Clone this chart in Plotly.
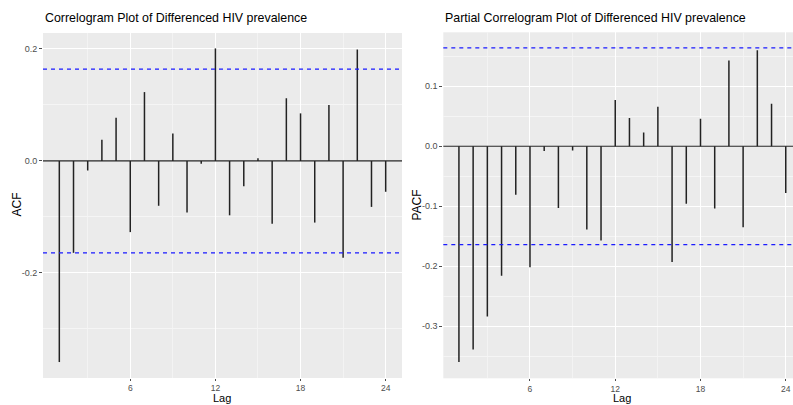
import plotly.graph_objects as go

lags = list(range(1, 25))
acf_vals = [-0.359, -0.164, -0.017, 0.038, 0.077, -0.127, 0.123, -0.080, 0.049, -0.092, -0.005, 0.201,
            -0.097, -0.045, 0.005, -0.112, 0.112, 0.085, -0.110, 0.100, -0.173, 0.199, -0.082, -0.055]
pacf_vals = [-0.360, -0.339, -0.284, -0.216, -0.081, -0.202, -0.008, -0.103, -0.007, -0.139, -0.157, 0.077,
             0.047, 0.023, 0.066, -0.193, -0.096, 0.046, -0.104, 0.143, -0.135, 0.160, 0.071, -0.078]
ci = 0.164

left_title = "Correlogram Plot of Differenced HIV prevalence"
right_title = "Partial Correlogram Plot of Differenced HIV prevalence"
x_ticks = [6, 12, 18, 24]
acf_ticks = [-0.2, 0.0, 0.2]
pacf_ticks = [-0.3, -0.2, -0.1, 0.0, 0.1]

W, H = 793, 405
FONT = "Liberation Sans, Arial, sans-serif"


def segs(xs, ys):
    sx, sy = [], []
    for a, b in zip(xs, ys):
        sx += [a, a, None]
        sy += [0, b, None]
    return sx, sy


fig = go.Figure()
for vals, xa, ya in [(acf_vals, "x", "y"), (pacf_vals, "x2", "y2")]:
    sx, sy = segs(lags, vals)
    fig.add_trace(go.Scatter(x=sx, y=sy, mode="lines", xaxis=xa, yaxis=ya,
                             line=dict(color="#222222", width=1.5), showlegend=False, hoverinfo="skip"))

shapes = []
for xr, yr in [("x domain", "y"), ("x2 domain", "y2")]:
    shapes.append(dict(type="line", xref=xr, yref=yr, x0=0, x1=1, y0=0, y1=0,
                       line=dict(color="#222222", width=1.2)))
    for v in (ci, -ci):
        shapes.append(dict(type="line", xref=xr, yref=yr, x0=0, x1=1, y0=v, y1=v,
                           line=dict(color="#1a1aff", width=1.2, dash="4px,4px")))

y_common = dict(showgrid=True, gridcolor="white", gridwidth=1.1, zeroline=False,
                ticks="outside", ticklen=3, tickcolor="#4d4d4d", tickwidth=1,
                tickfont=dict(family=FONT, size=9, color="#4d4d4d"), showline=False)
x_common = dict(showgrid=True, gridcolor="white", gridwidth=1.1, zeroline=False,
                ticks="outside", ticklen=2, tickcolor="#4d4d4d", tickwidth=1,
                tickfont=dict(family=FONT, size=8.5, color="#4d4d4d"), showline=False)

fig.update_layout(
    width=W, height=H, margin=dict(l=0, r=0, t=0, b=0),
    paper_bgcolor="white", plot_bgcolor="#EBEBEB",
    xaxis=dict(domain=[43 / W, 402 / W], range=[-0.15, 25.15], tickvals=x_ticks,
               minor=dict(tickvals=[3, 9, 15, 21], showgrid=True, gridcolor="#f3f3f3", gridwidth=0.5), anchor="y",
               **x_common),
    yaxis=dict(domain=[(H - 378) / H, (H - 33) / H], range=[-0.3875, 0.2285], tickvals=acf_ticks,
               ticktext=["-0.2", "0.0", "0.2"],
               minor=dict(tickvals=[-0.3, -0.1, 0.1], showgrid=True, gridcolor="#f5f5f5", gridwidth=0.6), anchor="x",
               **y_common),
    xaxis2=dict(domain=[443.3 / W, 1.0], range=[-0.1, 24.51], tickvals=x_ticks,
                minor=dict(tickvals=[3, 9, 15, 21], showgrid=True, gridcolor="#f3f3f3", gridwidth=0.5), anchor="y2",
                **x_common),
    yaxis2=dict(domain=[(H - 378.3) / H, (H - 32.3) / H], range=[-0.387, 0.19], tickvals=pacf_ticks,
                ticktext=["-0.3", "-0.2", "-0.1", "0.0", "0.1"],
                minor=dict(tickvals=[-0.35, -0.25, -0.15, -0.05, 0.05, 0.15], showgrid=True, gridcolor="#f5f5f5",
                           gridwidth=0.6), anchor="x2",
                **y_common),
    shapes=shapes,
)

ann = [
    dict(text=left_title, x=42.5 / W, y=1 - 18 / H, xanchor="left", yanchor="middle", font=dict(size=12.4)),
    dict(text=right_title, x=443 / W, y=1 - 18 / H, xanchor="left", yanchor="middle", font=dict(size=12.4)),
    dict(text="ACF", x=16.5 / W, y=1 - 205 / H, textangle=-90, xanchor="center", yanchor="middle", font=dict(size=12)),
    dict(text="PACF", x=416.5 / W, y=1 - 205 / H, textangle=-90, xanchor="center", yanchor="middle", font=dict(size=12)),
    dict(text="Lag", x=222 / W, y=0, xanchor="center", yanchor="bottom", font=dict(size=11), borderpad=0),
    dict(text="Lag", x=622 / W, y=0, xanchor="center", yanchor="bottom", font=dict(size=11), borderpad=0),
]
for a in ann:
    a.update(xref="paper", yref="paper", showarrow=False)
    a["font"].update(family=FONT, color="black")
fig.update_layout(annotations=ann)

fig.write_html("out.html")
